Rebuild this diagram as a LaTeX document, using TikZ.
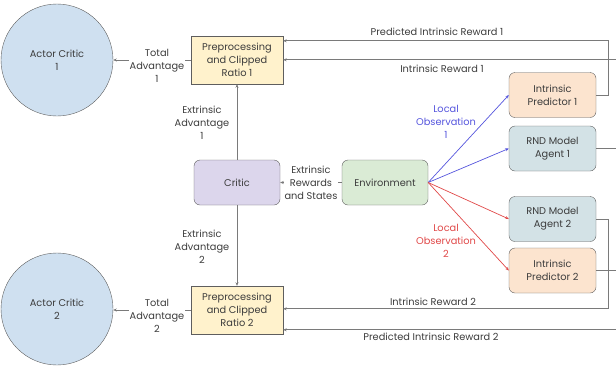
\documentclass[tikz,border=0pt]{standalone}
\usepackage{fontspec}
\setmainfont{Poppins}
\usetikzlibrary{arrows.meta,calc}
\definecolor{linegray}{HTML}{7A7A7A}
\definecolor{txtgray}{HTML}{3C3C3C}
\definecolor{bordergray}{HTML}{5E5E5E}
\definecolor{acblue}{HTML}{CFE0F0}
\definecolor{ppyellow}{HTML}{FFF2CC}
\definecolor{criticpurple}{HTML}{DCD6EC}
\definecolor{envgreen}{HTML}{DAEBD5}
\definecolor{iporange}{HTML}{FCE4CF}
\definecolor{rndblue}{HTML}{D3E2E6}
\definecolor{obsblue}{HTML}{5555DD}
\definecolor{obsred}{HTML}{E04848}
\begin{document}
\begin{tikzpicture}[x=1pt,y=-1pt,
  every node/.style={font=\fontsize{9.8}{12.8}\selectfont, text=txtgray, align=center},
  acnode/.style={circle, draw=bordergray, fill=acblue, minimum size=112pt, inner sep=0pt},
  ppnode/.style={rectangle, draw=bordergray, fill=ppyellow, minimum width=92pt, minimum height=48pt, inner sep=1pt},
  rnode/.style={rectangle, rounded corners=6pt, draw=bordergray, minimum width=87pt, minimum height=45pt, inner sep=1pt},
  lbl/.style={fill=white, inner sep=1pt},
  arr/.style={draw=linegray, line width=0.7pt, -{Stealth[length=3.5pt,width=3pt]}},
  barr/.style={draw=obsblue, line width=0.7pt, -{Stealth[length=3.5pt,width=3pt]}},
  rarr/.style={draw=obsred, line width=0.7pt, -{Stealth[length=3.5pt,width=3pt]}}
]
\useasboundingbox (0,0) rectangle (616,365);

\node[acnode] (ac1) at (57,60) {Actor Critic\\1};
\node[acnode] (ac2) at (57,309) {Actor Critic\\2};
\node[ppnode] (pp1) at (237,60) {Preprocessing\\and Clipped\\Ratio 1};
\node[ppnode] (pp2) at (237,310) {Preprocessing\\and Clipped\\Ratio 2};
\node[rnode, fill=criticpurple, minimum width=86pt] (critic) at (237,182.5) {Critic};
\node[rnode, fill=envgreen, minimum width=86pt] (env) at (385,182.5) {Environment};
\node[rnode, fill=iporange] (ip1) at (552.5,95) {Intrinsic\\Predictor 1};
\node[rnode, fill=rndblue] (rnd1) at (552.5,148.5) {RND Model\\Agent 1};
\node[rnode, fill=rndblue] (rnd2) at (552.5,219) {RND Model\\Agent 2};
\node[rnode, fill=iporange] (ip2) at (552.5,270.5) {Intrinsic\\Predictor 2};

% total advantage
\draw[arr] (pp1.west) -- (pp1.west -| ac1.east);
\node[lbl] (ta1) at (157,66) {Total\\Advantage\\1};
\draw[arr] (pp2.west) -- (pp2.west -| ac2.east);
\node[lbl] (ta2) at (157,316) {Total\\Advantage\\2};

% extrinsic advantage
\draw[arr] (critic.north) -- (pp1.south);
\node (ea1) at (202,123) {Extrinsic\\Advantage\\1};
\draw[arr] (critic.south) -- (pp2.north);
\node (ea2) at (202,247) {Extrinsic\\Advantage\\2};

% env -> critic
\draw[arr] (env.west) -- (critic.east);
\node[lbl] (ers) at (311,183) {Extrinsic\\Rewards\\and States};

% observations
\draw[barr] (env.east) -- (ip1.west);
\draw[barr] (env.east) -- (rnd1.west);
\draw[rarr] (env.east) -- (rnd2.west);
\draw[rarr] (env.east) -- (ip2.west);
\node[text=obsblue] (lo1) at (446,122) {Local\\Observation\\1};
\node[text=obsred] (lo2) at (446,241) {Local\\Observation\\2};

% rewards, agent 1
\coordinate (p1a) at ($(pp1.north east)+(0,5)$);
\coordinate (p1b) at ($(pp1.north east)+(0,24)$);
\coordinate (c1a) at (608,95);
\coordinate (c1b) at (618,148.5);
\draw[arr] (ip1.east) -- (c1a) -- (c1a |- p1a) -- (p1a);
\draw[arr] (rnd1.east) -- (c1b) -- (c1b |- p1b) -- (p1b);
\node (pir1) at (437,32) {Predicted Intrinsic Reward 1};
\node (ir1) at (442,69) {Intrinsic Reward 1};

% rewards, agent 2
\coordinate (p2a) at ($(pp2.north east)+(0,23)$);
\coordinate (p2b) at ($(pp2.north east)+(0,44)$);
\coordinate (c2a) at (608,219);
\coordinate (c2b) at (618,270.5);
\draw[arr] (rnd2.east) -- (c2a) -- (c2a |- p2a) -- (p2a);
\draw[arr] (ip2.east) -- (c2b) -- (c2b |- p2b) -- (p2b);
\node (ir2) at (433,302) {Intrinsic Reward 2};
\node (pir2) at (431,337) {Predicted Intrinsic Reward 2};
\end{tikzpicture}
\end{document}
